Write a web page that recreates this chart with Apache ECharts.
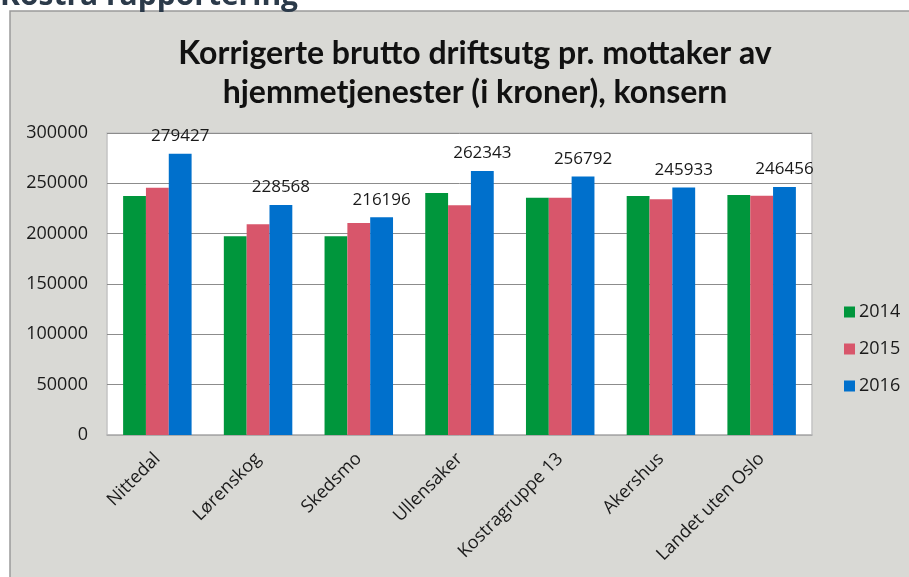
<!DOCTYPE html>
<html>
<head>
<meta charset="utf-8">
<script src="https://cdn.jsdelivr.net/npm/echarts@6/dist/echarts.min.js"></script>
<style>
  html, body { margin: 0; padding: 0; background: #fff; }
  #chart { width: 909px; height: 577px; }
</style>
</head>
<body>
<div id="chart"></div>
<script>
const categories = ['Nittedal', 'Lørenskog', 'Skedsmo', 'Ullensaker', 'Kostragruppe 13', 'Akershus', 'Landet uten Oslo']
const years = ['2014', '2015', '2016']
const values2014 = [237400, 197400, 197400, 240400, 235700, 237400, 238400]
const values2015 = [245600, 209300, 210600, 228200, 235800, 234100, 237700]
const values2016 = [279427, 228568, 216196, 262343, 256792, 245933, 246456]
const yTicks = { min: 0, max: 300000, interval: 50000 }
const colors = ['#00963c', '#d8566b', '#0070cc']

const font = '"Open Sans", "DejaVu Sans", sans-serif'
const chart = echarts.init(document.getElementById('chart'))

const barSeries = (name, data, i) => ({
  name,
  type: 'bar',
  data,
  barGap: '0%',
  barCategoryGap: '32%',
  itemStyle: { color: colors[i] },
  label: i === 2 ? {
    show: true,
    position: 'top',
    distance: 9,
    color: '#1a1a1a',
    fontFamily: font,
    fontSize: 17
  } : { show: false }
})

chart.setOption({
  animation: false,
  color: colors,
  graphic: [
    {
      type: 'rect',
      z: -10,
      shape: { x: 10, y: 11, width: 920, height: 600 },
      style: { fill: '#d9d9d5', stroke: '#9a9a9a', lineWidth: 1.5 }
    },
    {
      type: 'text',
      left: 0,
      top: -19,
      style: {
        text: 'Kostra rapportering',
        fill: '#2b3a4a',
        font: 'bold 30px ' + font
      }
    }
  ],
  title: {
    text: 'Korrigerte brutto driftsutg pr. mottaker av\nhjemmetjenester (i kroner), konsern',
    left: 470,
    textAlign: 'center',
    top: 29,
    textStyle: {
      fontFamily: 'Lato, "Open Sans", sans-serif',
      fontWeight: 'bold',
      fontSize: 32,
      lineHeight: 39,
      color: '#111'
    }
  },
  legend: {
    orient: 'vertical',
    left: 839,
    top: 298,
    itemWidth: 11,
    itemHeight: 11,
    itemGap: 19,
    icon: 'rect',
    textStyle: { fontFamily: font, fontSize: 18, color: '#1a1a1a', padding: [0, 0, 0, -1] },
    data: years
  },
  grid: {
    left: 107,
    right: 97,
    top: 133,
    bottom: 142,
    show: true,
    backgroundColor: '#ffffff',
    borderColor: '#c4c4c4',
    borderWidth: 1.5
  },
  xAxis: {
    type: 'category',
    data: categories,
    axisLine: { lineStyle: { color: '#b5b5b5', width: 1.5 } },
    axisTick: { show: false },
    axisLabel: {
      rotate: 45,
      interval: 0,
      margin: 21,
      fontFamily: font,
      fontSize: 18,
      color: '#1a1a1a'
    }
  },
  yAxis: {
    type: 'value',
    min: yTicks.min,
    max: yTicks.max,
    interval: yTicks.interval,
    axisLine: { show: false },
    axisTick: { show: false },
    splitLine: { lineStyle: { color: '#8c8c8c', width: 1 } },
    axisLabel: {
      margin: 19,
      formatter: v => String(v),
      fontFamily: font,
      fontSize: 18,
      color: '#1a1a1a'
    }
  },
  series: [
    barSeries(years[0], values2014, 0),
    barSeries(years[1], values2015, 1),
    barSeries(years[2], values2016, 2)
  ]
})
</script>
</body>
</html>
